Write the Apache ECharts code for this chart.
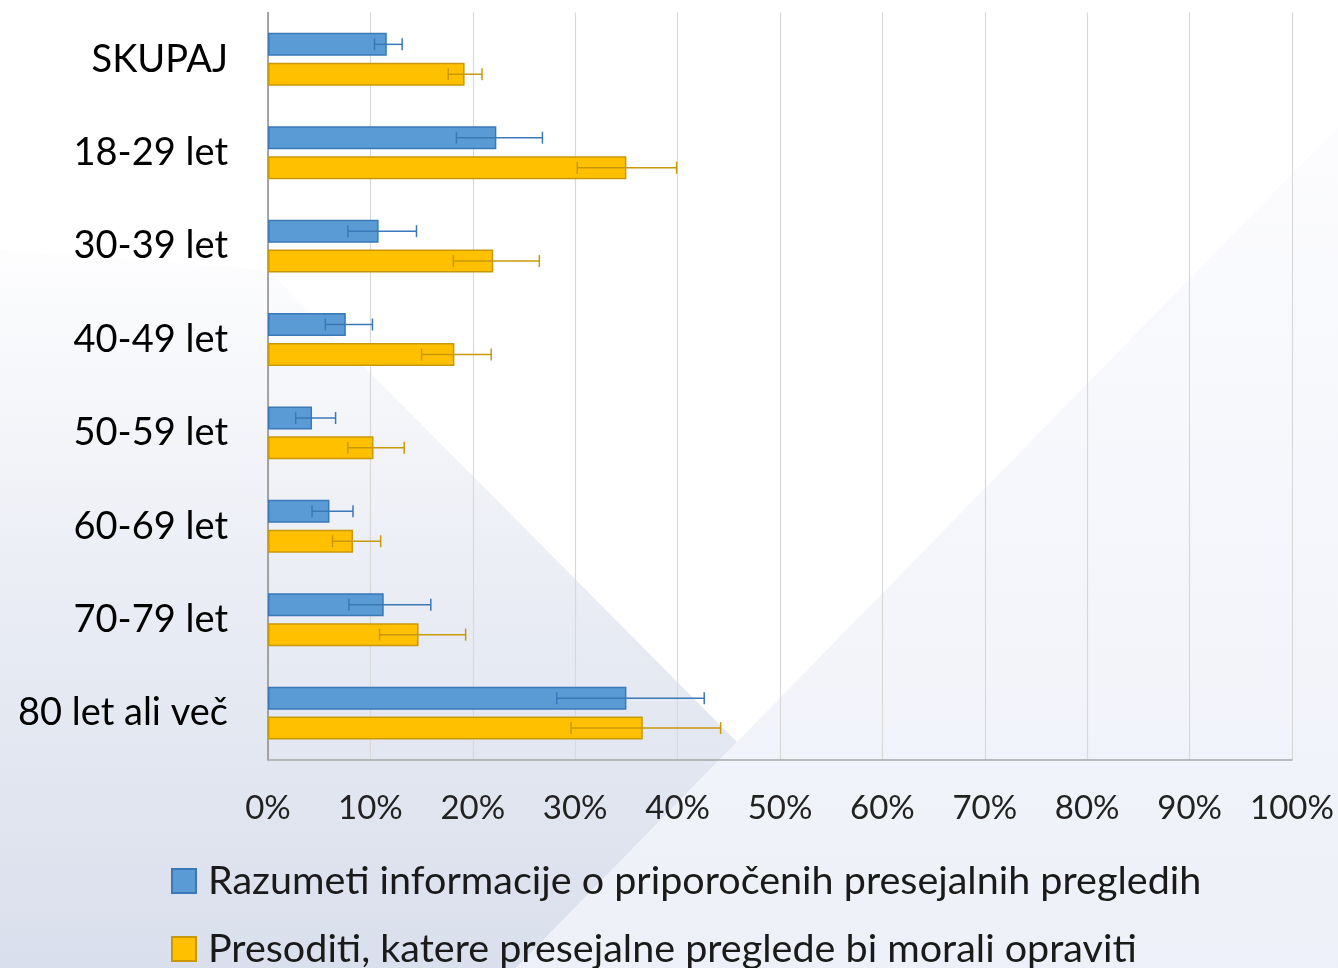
<!DOCTYPE html>
<html>
<head>
<meta charset="utf-8">
<script src="https://cdn.jsdelivr.net/npm/echarts@6/dist/echarts.min.js"></script>
<style>
html,body{margin:0;padding:0;background:#fff;}
#chart{width:1338px;height:968px;}
</style>
</head>
<body>
<div id="chart"></div>
<script>
// ---- data ----
const categories = ['SKUPAJ','18-29 let','30-39 let','40-49 let','50-59 let','60-69 let','70-79 let','80 let ali več'];
const seriesNames = ['Razumeti informacije o priporočenih presejalnih pregledih','Presoditi, katere presejalne preglede bi morali opraviti'];
const understandValues = [11.6, 22.3, 10.8, 7.6, 4.3, 6.0, 11.3, 35.0];
const understandLow    = [10.4, 18.4, 7.8, 5.6, 2.7, 4.3, 7.9, 28.2];
const understandHigh   = [13.1, 26.8, 14.5, 10.2, 6.6, 8.3, 15.9, 42.6];
const judgeValues = [19.2, 35.0, 22.0, 18.2, 10.3, 8.3, 14.7, 36.6];
const judgeLow    = [17.6, 30.2, 18.1, 15.0, 7.8, 6.3, 10.9, 29.6];
const judgeHigh   = [20.9, 39.9, 26.5, 21.8, 13.3, 11.0, 19.3, 44.2];
const xTicks = {min: 0, max: 100, interval: 10};

// ---- style ----
const FONT = 'Lato';
const BAR_W = 23;
const GAP_RATIO = 0.3;
const OFF = BAR_W * (1 + GAP_RATIO) / 2;

function errSeries(lows, highs, color, sign) {
  return {
    type: 'custom',
    z: 5,
    silent: true,
    data: lows.map((l, i) => [i, l, highs[i]]),
    encode: {x: [1, 2], y: 0},
    renderItem: function (params, api) {
      const c = api.value(0);
      const lo = api.coord([api.value(1), c]);
      const hi = api.coord([api.value(2), c]);
      const y = lo[1] + sign * OFF;
      const h = 6;
      const st = {stroke: color, lineWidth: 1.5};
      return {
        type: 'group',
        children: [
          {type: 'line', shape: {x1: lo[0], y1: y, x2: hi[0], y2: y}, style: st},
          {type: 'line', shape: {x1: lo[0], y1: y - h, x2: lo[0], y2: y + h}, style: st},
          {type: 'line', shape: {x1: hi[0], y1: y - h, x2: hi[0], y2: y + h}, style: st}
        ]
      };
    }
  };
}

function legendFor(name, top) {
  return {
    data: [name],
    orient: 'vertical',
    left: 171,
    top: top,
    padding: 0,
    icon: 'rect',
    itemWidth: 24,
    itemHeight: 24,
    itemGap: 0,
    selectedMode: false,
    textStyle: {fontFamily: FONT, fontSize: 39.5, color: '#1a1a1a', lineHeight: 44, padding: [0, 0, 0, 7]}
  };
}

const chart = echarts.init(document.getElementById('chart'), null, {renderer: 'canvas'});
chart.setOption({
  backgroundColor: '#ffffff',
  animation: false,
  textStyle: {fontFamily: FONT},
  graphic: [
    {
      type: 'polygon', z: -100, silent: true,
      shape: {points: [[0, 250], [268, 270], [737, 742], [516, 968], [0, 968]]},
      style: {fill: new echarts.graphic.LinearGradient(0, 0, 0, 1, [
        {offset: 0, color: '#fdfdfe'},
        {offset: 0.15, color: '#f7f8fb'},
        {offset: 0.5, color: '#e9ecf4'},
        {offset: 1, color: '#d9dfec'}
      ])}
    },
    {
      type: 'polygon', z: -100, silent: true,
      shape: {points: [[1338, 127], [1338, 968], [516, 968]]},
      style: {fill: new echarts.graphic.LinearGradient(0, 0, 0, 1, [
        {offset: 0, color: '#fcfcfe'},
        {offset: 1, color: '#edf0f8'}
      ])}
    }
  ],
  grid: {left: 268, right: 46, top: 12.6, bottom: 208.2, containLabel: false},
  legend: [
    legendFor(seriesNames[0], 859),
    legendFor(seriesNames[1], 927)
  ],
  xAxis: {
    type: 'value',
    min: xTicks.min, max: xTicks.max, interval: xTicks.interval,
    axisLine: {show: true, lineStyle: {color: '#a6a6a6', width: 1.5}},
    axisTick: {show: false},
    splitLine: {show: true, lineStyle: {color: '#d9d9d9', width: 1.2}},
    axisLabel: {formatter: '{value}%', fontFamily: FONT, fontSize: 33, color: '#222', margin: 32}
  },
  yAxis: {
    type: 'category',
    data: categories,
    inverse: true,
    axisLine: {show: true, lineStyle: {color: '#8c8c8c', width: 1.5}},
    axisTick: {show: false},
    axisLabel: {fontFamily: FONT, fontSize: 38, color: '#000', margin: 40}
  },
  series: [
    {
      name: seriesNames[0], type: 'bar', data: understandValues,
      barWidth: BAR_W, barGap: (GAP_RATIO * 100) + '%',
      itemStyle: {color: '#5b9bd5', borderColor: '#3a78b8', borderWidth: 1.5}
    },
    {
      name: seriesNames[1], type: 'bar', data: judgeValues,
      barWidth: BAR_W, barGap: (GAP_RATIO * 100) + '%',
      itemStyle: {color: '#ffc000', borderColor: '#c9980a', borderWidth: 1.5}
    },
    errSeries(understandLow, understandHigh, '#3a78b8', -1),
    errSeries(judgeLow, judgeHigh, '#c9980a', 1)
  ]
});
</script>
</body>
</html>
